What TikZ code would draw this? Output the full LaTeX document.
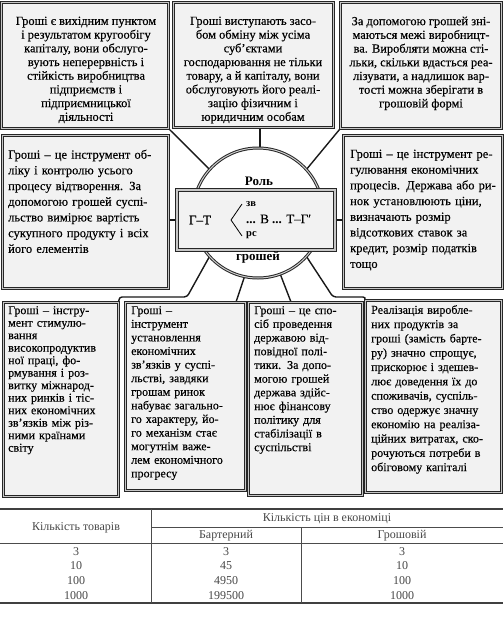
\documentclass[tikz,border=0pt]{standalone}
\usepackage{fontspec}
\setmainfont{Liberation Serif}[UprightFeatures={FakeBold=0.3}]
\newfontfamily\tabfont{Liberation Serif}
\usetikzlibrary{backgrounds}
\newcommand{\jj}[1]{\makebox[\linewidth][s]{#1}\\}
\begin{document}
\begin{tikzpicture}[x=1pt,y=-1pt,
  boxst/.style={draw=black!85, line width=0.9pt, double=gray!45, double distance=1.4pt, fill=gray!10, inner sep=0pt, anchor=north west},
  ringst/.style={circle, draw=black!85, line width=1pt, double=gray!40, double distance=1pt, fill=white, inner sep=0pt},
  conn/.style={draw=black!90, line width=1.4pt, rounded corners=3pt},
  toptxt/.style={inner sep=0pt, anchor=north, align=center, font=\fontsize{12.4}{13.7}\selectfont},
  midtxt/.style={inner sep=0pt, anchor=north west, align=left, text width=#1, font=\fontsize{12.5}{15.7}\selectfont},
  bottxt/.style={inner sep=0pt, anchor=north west, align=left, text width=#1},
  tabtxt/.style={inner sep=0pt, anchor=base, text=black!72, font=\tabfont\fontsize{12}{13}\selectfont},
  tabline/.style={draw=black!70, line width=0.7pt},
  tabthick/.style={draw=black!75, line width=1.3pt}
]
\useasboundingbox (0,0) rectangle (503,626);

% boxes
\node[boxst, minimum width=167pt, minimum height=126pt] (tlb) at (1,2) {};
\node[boxst, minimum width=160pt, minimum height=125pt] (tmb) at (173,2) {};
\node[boxst, minimum width=161pt, minimum height=126pt] (trb) at (340,2) {};
\node[boxst, minimum width=166pt, minimum height=153pt] (mlb) at (2,135) {};
\node[boxst, minimum width=159pt, minimum height=153pt] (mrb) at (343,135) {};
\node[boxst, minimum width=115pt, minimum height=194pt] (b1b) at (3,302) {};
\node[boxst, minimum width=120pt, minimum height=188pt] (b2b) at (125,302) {};
\node[boxst, minimum width=114pt, minimum height=193pt] (b3b) at (248,302) {};
\node[boxst, minimum width=136pt, minimum height=192pt] (b4b) at (365,300) {};

% centre
\node[ringst, minimum size=130pt] (circ) at (258,213) {};
\node[boxst, anchor=center, line width=1.1pt, double distance=1.6pt, minimum width=158pt, minimum height=60pt] (rect) at (256,220) {};

\coordinate (l1) at (187,297);
\coordinate (l2) at (119,297);
\coordinate (r1) at (333,297);
\coordinate (r2) at (366,297);
\coordinate (b2top) at (236,302);
\coordinate (b3top) at (291,302);

\begin{scope}[on background layer]
\draw[conn] (tlb.south east) -- (circ.138);
\draw[conn] (trb.south west) -- (circ.42);
\draw[conn] (tmb.south -| 260,0) -- (circ.north -| 260,0);
\draw[conn] (rect.west) -- (rect.west -| mlb.east);
\draw[conn] (rect.east) -- (rect.east -| mrb.west);
\draw[conn] (circ.222) -- (l1) -- (l2) -- (b1b.north east);
\draw[conn] (circ.318) -- (r1) -- (r2) -- (b4b.north west);
\draw[conn] (circ.258) -- (b2top);
\draw[conn] (circ.290) -- (b3top);
\end{scope}

% centre texts
\node[inner sep=0pt, font=\fontsize{13}{14}\selectfont\bfseries] (rol) at (259,181) {Роль};
\node[inner sep=0pt, font=\fontsize{13}{14}\selectfont\bfseries] (grs) at (258,257) {грошей};
\node[inner sep=0pt, font=\fontsize{13}{14}\selectfont] (gt) at (200,220) {Г–Т};
\coordinate (brt) at (242,204);
\coordinate (brm) at (231,220);
\coordinate (brb) at (242,236);
\draw[line width=0.8pt] (brt) -- (brm) -- (brb);
\node[inner sep=0pt, anchor=west, font=\fontsize{10.5}{11}\selectfont\bfseries] (zv) at (246,204) {зв};
\node[inner sep=0pt, anchor=west, font=\fontsize{10.5}{11}\selectfont\bfseries] (rs) at (246,235) {рс};
\node[inner sep=0pt, anchor=west, font=\fontsize{13}{14}\selectfont] (vt) at (246,219) {\textbf{...} В \textbf{...} Т–Г′};

% top texts
\node[toptxt] (tlt) at (86,16.5) {Гроші є вихідним пунктом\\ і результатом кругообігу\\ капіталу, вони обслуго-\\ вують неперервність і\\ стійкість виробництва\\ підприємств і\\ підприємницької\\ діяльності};
\node[toptxt] (tmt) at (253,16.5) {Гроші виступають засо-\\ бом обміну між усіма\\ суб’єктами\\ господарювання не тільки\\ товару, а й капіталу, вони\\ обслуговують його реалі-\\ зацію фізичним і\\ юридичним особам};
\node[toptxt] (trt) at (421,16.5) {За допомогою грошей зні-\\ маються межі виробницт-\\ ва. Виробляти можна сті-\\ льки, скільки вдасться реа-\\ лізувати, а надлишок вар-\\ тості можна зберігати в\\ грошовій формі};

% middle texts
\node[midtxt=155pt] (mlt) at (8,149.5) {\jj{Гроші – це інструмент об-}\jj{ліку і контролю усього}\jj{процесу відтворення. За}\jj{допомогою грошей суспі-}\jj{льство вимірює вартість}\jj{сукупного продукту і всіх}його елементів};
\node[midtxt=146pt] (mrt) at (350,149.5) {\jj{Гроші – це інструмент ре-}\jj{гулювання економічних}\jj{процесів. Держава або ри-}\jj{нок установлюють ціни,}\jj{визначають розмір}\jj{відсоткових ставок за}\jj{кредит, розмір податків}тощо};

% bottom texts
\node[bottxt=106pt, font=\fontsize{12}{12.5}\selectfont] (b1t) at (8,306) {\jj{Гроші – інстру-}\jj{мент стимулю-}вання\\ високопродуктив\\ \jj{ної праці, фо-}\jj{рмування і роз-}\jj{витку міжнарод-}\jj{них ринків і тіс-}\jj{них економічних}\jj{зв’язків між різ-}\jj{ними країнами}світу};
\node[bottxt=110pt, font=\fontsize{12}{13.6}\selectfont] (b2t) at (131,306) {\jj{Гроші –}інструмент\\ установлення\\ економічних\\ \jj{зв’язків у суспі-}\jj{льстві, завдяки}\jj{грошам ринок}\jj{набуває загально-}\jj{го характеру, йо-}\jj{го механізм стає}\jj{могутнім важе-}\jj{лем економічного}прогресу};
\node[bottxt=104pt, font=\fontsize{12}{13.7}\selectfont] (b3t) at (254,306) {\jj{Гроші – це спо-}\jj{сіб проведення}\jj{державою від-}\jj{повідної полі-}\jj{тики. За допо-}\jj{могою грошей}\jj{держава здійс-}\jj{нює фінансову}\jj{політику для}\jj{стабілізації в}суспільстві};
\node[bottxt=124pt, font=\fontsize{12}{14.3}\selectfont] (b4t) at (371,305) {\jj{Реалізація вироблe-}\jj{них продуктів за}\jj{гроші (замість барте-}\jj{ру) значно спрощує,}\jj{прискорює і здешев-}\jj{лює доведення їх до}\jj{споживачів, суспіль-}\jj{ство одержує значну}\jj{економію на реаліза-}\jj{ційних витратах, ско-}\jj{рочуються потреби в}обіговому капіталі};

% table
\coordinate (t0l) at (0,509);   \coordinate (t0r) at (503,509);
\coordinate (t1l) at (151,527); \coordinate (t1r) at (503,527);
\coordinate (t2l) at (0,543);   \coordinate (t2r) at (503,543);
\coordinate (t3l) at (0,603);   \coordinate (t3r) at (503,603);
\coordinate (v1t) at (151,509); \coordinate (v1b) at (151,603);
\coordinate (v2t) at (301,527); \coordinate (v2b) at (301,603);
\draw[tabthick] (t0l) -- (t0r);
\draw[tabline] (t1l) -- (t1r);
\draw[tabline] (t2l) -- (t2r);
\draw[tabthick] (t3l) -- (t3r);
\draw[tabline] (v1t) -- (v1b);
\draw[tabline] (v2t) -- (v2b);

\node[tabtxt] (h1) at (76,530.5) {Кількість товарів};
\node[tabtxt] (h2) at (327,521.5) {Кількість цін в економіці};
\node[tabtxt] (h3) at (226,538.5) {Бартерний};
\node[tabtxt] (h4) at (402,538.5) {Грошовій};
\node[tabtxt] (a1) at (76,555.5) {3};
\node[tabtxt] (a2) at (76,569.5) {10};
\node[tabtxt] (a3) at (76,584.5) {100};
\node[tabtxt] (a4) at (76,599) {1000};
\node[tabtxt] (c1) at (226,555.5) {3};
\node[tabtxt] (c2) at (226,569.5) {45};
\node[tabtxt] (c3) at (226,584.5) {4950};
\node[tabtxt] (c4) at (226,599) {199500};
\node[tabtxt] (d1) at (402,555.5) {3};
\node[tabtxt] (d2) at (402,569.5) {10};
\node[tabtxt] (d3) at (402,584.5) {100};
\node[tabtxt] (d4) at (402,599) {1000};
\end{tikzpicture}
\end{document}
